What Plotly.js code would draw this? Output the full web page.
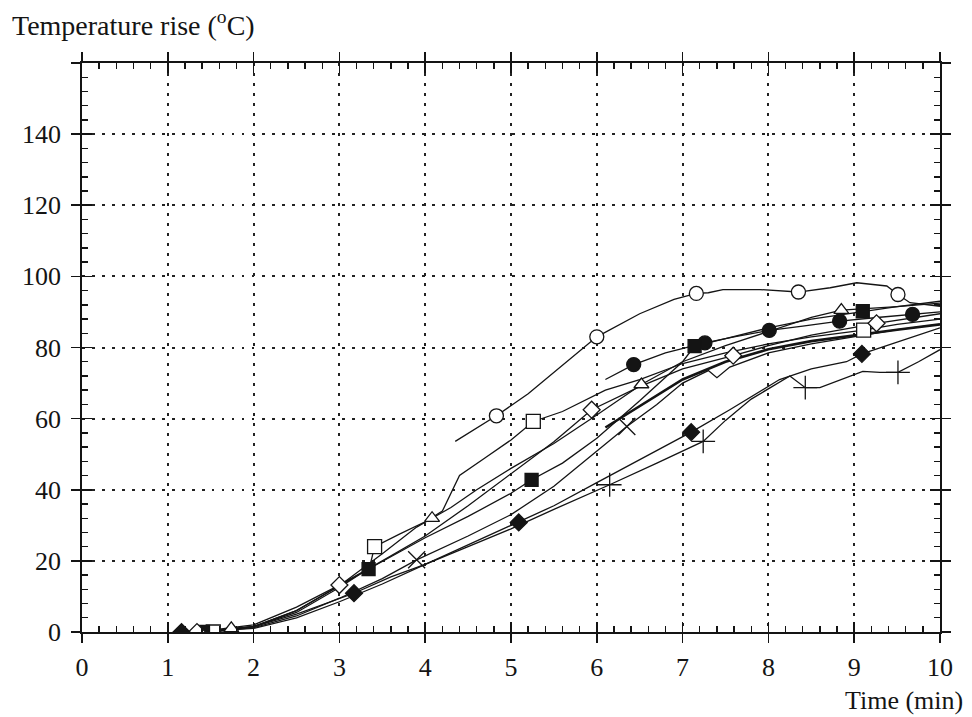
<!DOCTYPE html>
<html>
<head>
<meta charset="utf-8">
<script src="https://cdn.plot.ly/plotly-3.0.1.min.js"></script>
<style>html,body{margin:0;padding:0;background:#fff;}#chart{width:972px;height:717px;}</style>
</head>
<body>
<div id="chart"></div>
<script>
// ---- data (time in min, temperature rise in °C) ----
const xTicks = [0,1,2,3,4,5,6,7,8,9,10];
const yTicks = [0,20,40,60,80,100,120,140];
const yFrameTicks = [0,20,40,60,80,100,120,140,160];

// open circle
const ocX = [4.35,4.83,5.2,5.6,6.0,6.5,6.9,7.16,7.3,7.47,7.9,8.35,8.72,9.03,9.38,9.51,9.65,10];
const ocY = [53.6,60.8,67,75,83,89.5,93.5,95.2,95.4,96.3,96.3,95.6,96.8,98.2,97.3,94.9,92.6,91.6];
const ocMX = [4.83,6.0,7.16,8.35,9.51];
const ocMY = [60.8,83,95.2,95.6,94.9];
// filled circle
const fcX = [6.1,6.43,6.8,7.26,7.6,8.01,8.4,8.83,9.3,9.68,10];
const fcY = [71,75.2,78.5,81.3,83,84.8,86,87.4,88.5,89.3,90];
const fcMX = [6.43,7.26,8.01,8.83,9.68];
const fcMY = [75.2,81.3,84.8,87.4,89.3];
// open triangle
const trX = [1.74,2,2.5,3,3.5,3.9,4.08,4.3,4.6,5.0,5.5,6.0,6.52,7.0,7.5,8.0,8.5,8.85,9.5,10];
const trY = [1,1.5,6,13,22,29.5,32,35,40,46,53,61,69.6,76,80.5,84.5,88.5,90.5,91.5,92.5];
const trMX = [1.74,4.08,6.52,8.85];
const trMY = [1,32,69.6,90.5];
// open square
const osX = [1.53,2,2.5,3,3.35,3.41,3.7,4.0,4.2,4.4,4.7,5.0,5.26,5.6,6.1,6.5,7.0,7.5,8.0,8.5,9.11,9.5,10];
const osY = [0,1.5,5.5,12.5,18,24,27.5,31,34,44,49,54,59.2,62,68,71,75.5,78.5,81,83,84.9,86.5,88];
const osMX = [1.53,3.41,5.26,9.11];
const osMY = [0,24,59.2,84.9];
// filled square
const fsX = [1.41,2,2.5,3,3.34,3.7,4.0,4.5,5.0,5.24,5.6,6.0,6.5,7.0,7.14,7.5,8.0,8.5,9.1,9.5,10];
const fsY = [0,1.5,6,13,17.7,22.5,26.5,32.5,39,42.8,47.5,54.5,65,76,80.4,82.5,85.5,88,90.2,91.5,93];
const fsMX = [1.41,3.34,5.24,7.14,9.1];
const fsMY = [0,17.7,42.8,80.4,90.2];
// open diamond
const odX = [1.34,2,2.5,3.0,3.5,4.0,4.5,5.0,5.5,5.94,6.5,7.0,7.59,8.0,8.5,9.26,9.6,10];
const odY = [0,2,7,13.2,20,27,35.5,44.5,53.5,62.5,69,74,77.7,80.5,83.5,86.8,88,89.5];
const odMX = [1.34,3.0,5.94,7.59,9.26];
const odMY = [0,13.2,62.5,77.7,86.8];
// cross
const cxX = [1.5,2,2.5,3,3.5,3.9,4.5,5.0,5.5,6.0,6.35,6.7,7.0,7.3,7.4,7.55,8.0,8.5,9.0,9.5,10];
const cxY = [0,1.2,4.5,9.5,15,20.3,27,33,41,51,57.8,64,70,73.5,71.5,74.5,78.5,81,83,85,86.5];
const cxMX = [3.9,6.35];
const cxMY = [20.3,57.8];
// bold curve (no marker)
const bdX = [6.1,6.5,7.0,7.5,8.0,8.5,9.0,9.5,10];
const bdY = [57.5,63.5,71,76,79.5,81.8,83.5,85,86.5];
// filled diamond
const fdX = [1.16,1.5,2,2.5,3.17,3.6,4.0,4.5,5.09,5.5,6.0,6.5,7.1,7.55,8.13,8.5,8.91,9.09,9.5,10];
const fdY = [0,0.3,1.5,5,10.9,15.5,19,24.5,30.8,35.5,42,48.5,56.2,62.5,71,74,76,78.2,81.5,85.5];
const fdMX = [1.16,3.17,5.09,7.1,9.09];
const fdMY = [0,10.9,30.8,56.2,78.2];
// plus
const plX = [1.3,2,2.5,3,3.5,4.0,4.5,5.0,5.5,6.15,6.7,7.24,7.5,7.8,8.25,8.43,8.6,9.1,9.3,9.51,9.75,10];
const plY = [0,1,4,8.5,13.5,19,24,29,34.5,41.4,47.5,53.6,59.5,65.5,72,68.7,68.7,73.3,73,73,76,79.4];
const plMX = [6.15,7.24,8.43,9.51];
const plMY = [41.4,53.6,68.7,73];

const INK = '#141414';
const lineTrace = (x, y, w) => ({x, y, mode:'lines', type:'scatter', line:{color:INK, width:w||1.3}, hoverinfo:'skip'});
const markTrace = (x, y, sym, fill, size) => ({x, y, mode:'markers', type:'scatter',
  marker:{symbol:sym, size:size||12, color:fill, line:{color:INK, width:1.3}}, hoverinfo:'skip'});

const traces = [
  lineTrace(ocX, ocY), lineTrace(fcX, fcY), lineTrace(trX, trY), lineTrace(osX, osY),
  lineTrace(fsX, fsY), lineTrace(odX, odY), lineTrace(cxX, cxY), lineTrace(bdX, bdY, 2.6),
  lineTrace(fdX, fdY), lineTrace(plX, plY),
  markTrace(ocMX, ocMY, 'circle', '#fff', 14),
  markTrace(fcMX, fcMY, 'circle', INK, 14),
  markTrace(trMX, trMY, 'triangle-up', '#fff', 13),
  markTrace(osMX, osMY, 'square', '#fff', 14),
  markTrace(fsMX, fsMY, 'square', INK, 13),
  markTrace(odMX, odMY, 'diamond', '#fff', 13),
  markTrace(cxMX, cxMY, 'x-thin-open', INK, 17),
  markTrace(fdMX, fdMY, 'diamond', INK, 13),
  markTrace(plMX, plMY, 'cross-thin-open', INK, 17)
];

const FONT = 'Liberation Serif, Times New Roman, serif';
const GRID_DASH = '2.5px,7.5px';
const layout = {
  width:972, height:717,
  margin:{l:82, r:32, t:63, b:85},
  paper_bgcolor:'#fff', plot_bgcolor:'#fff',
  showlegend:false,
  font:{family:FONT, color:INK, size:26},
  xaxis:{range:[0,10], tickvals:xTicks, ticks:'inside', ticklen:10, tickwidth:1.7, tickcolor:INK,
    mirror:'allticks', showline:true, linecolor:INK, linewidth:1.7,
    showgrid:true, gridcolor:'#222', griddash:GRID_DASH, gridwidth:2, zeroline:false,
    minor:{dtick:0.2, ticks:'inside', ticklen:6, tickwidth:1.4, tickcolor:INK, showgrid:false},
    tickfont:{family:FONT, size:26, color:INK}, ticklabelstandoff:11},
  xaxis2:{range:[0,10], overlaying:'x', anchor:'y', side:'bottom', tickvals:xTicks, ticks:'outside', ticklen:10,
    tickwidth:1.7, tickcolor:INK, mirror:'allticks', showticklabels:false, showgrid:false, zeroline:false, showline:false},
  yaxis:{range:[0,160], tickvals:yTicks, ticks:'inside', ticklen:10, tickwidth:1.7, tickcolor:INK,
    mirror:'allticks', showline:true, linecolor:INK, linewidth:1.7,
    showgrid:true, gridcolor:'#222', griddash:GRID_DASH, gridwidth:2, zeroline:false,
    minor:{dtick:4, ticks:'inside', ticklen:6, tickwidth:1.4, tickcolor:INK, showgrid:false},
    tickfont:{family:FONT, size:26, color:INK}, ticklabelstandoff:14},
  yaxis2:{range:[0,160], overlaying:'y', anchor:'x', side:'left', tickvals:yFrameTicks, ticks:'outside', ticklen:10,
    tickwidth:1.7, tickcolor:INK, mirror:'allticks', showticklabels:false, showgrid:false, zeroline:false, showline:false},
  annotations:[
    {text:'Temperature rise (<sup>o</sup>C)', xref:'paper', yref:'paper', x:-0.084, y:1.07,
      xanchor:'left', yanchor:'middle', showarrow:false, font:{family:FONT, size:28, color:INK}},
    {text:'Time (min)', xref:'paper', yref:'paper', x:1.029, y:-0.12,
      xanchor:'right', yanchor:'middle', showarrow:false, font:{family:FONT, size:26, color:INK}}
  ]
};
// invisible point so the overlay frame axes are drawn
traces.push({x:[0], y:[0], xaxis:'x2', yaxis:'y2', mode:'markers', marker:{opacity:0}, hoverinfo:'skip', type:'scatter'});

Plotly.newPlot('chart', traces, layout, {staticPlot:true});
</script>
</body>
</html>
